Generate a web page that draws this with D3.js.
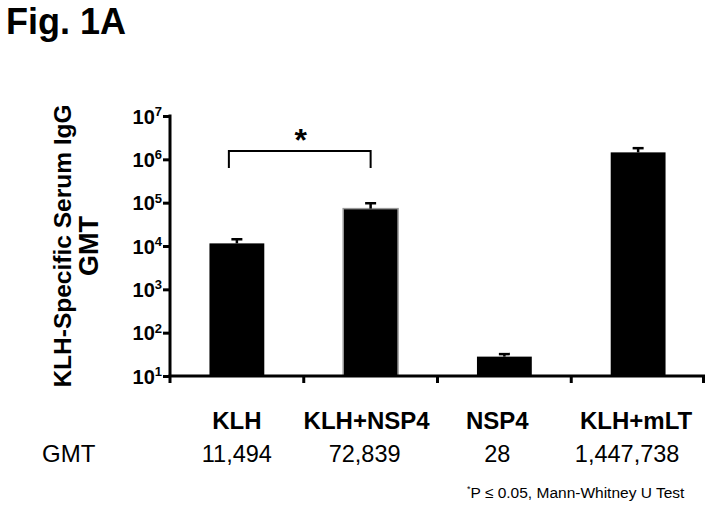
<!DOCTYPE html>
<html>
<head>
<meta charset="utf-8">
<script src="https://cdn.jsdelivr.net/npm/d3@7"></script>
<style>
  html, body { margin: 0; padding: 0; background: #fff; }
  svg { display: block; font-family: "Liberation Sans", Arial, sans-serif; }
</style>
</head>
<body>
<svg id="chart" width="714" height="505"></svg>
<script>
// ---- data ----
const categories = ["KLH", "KLH+NSP4", "NSP4", "KLH+mLT"];
const gmtValues = [11494, 72839, 28, 1447738];
const errorUpper = [14300, 97000, 32, 1810000];
const gmtLabels = ["11,494", "72,839", "28", "1,447,738"];
const yTickValues = [1e1, 1e2, 1e3, 1e4, 1e5, 1e6, 1e7];
const yTickExponents = ["1", "2", "3", "4", "5", "6", "7"];

(function () {
const svg = d3.select("#chart");
const pLeft = 170, pRight = 705, pTop = 116, pBottom = 376;
// small horizontal nudges of the text rows (layout only)
const catDx = [0, -4, -7, -2];
const gmtDx = [0, -6, -7, -11];

const y = d3.scaleLog().domain([1e1, 1e7]).range([pBottom, pTop]);
const x = d3.scaleBand().domain(categories).range([pLeft, pRight])
  .paddingInner(0.59).paddingOuter(0.295);
const cx = d => x(d) + x.bandwidth() / 2;

// Title
svg.append("text").attr("x", 6).attr("y", 34)
  .attr("font-size", 36).attr("font-weight", "bold").text("Fig. 1A");

// Bars
svg.append("g").selectAll("rect").data(categories).join("rect")
  .attr("x", d => x(d))
  .attr("width", x.bandwidth())
  .attr("y", (d, i) => y(gmtValues[i]))
  .attr("height", (d, i) => pBottom - y(gmtValues[i]))
  .attr("fill", "#000")
  .attr("stroke", d => d === "KLH+NSP4" ? "#9a9a9a" : "none")
  .attr("stroke-width", 1.5);

// Error bars (upper)
const eb = svg.append("g").attr("stroke", "#000").attr("stroke-width", 2.5);
categories.forEach((c, i) => {
  eb.append("line").attr("x1", cx(c)).attr("x2", cx(c))
    .attr("y1", y(gmtValues[i])).attr("y2", y(errorUpper[i]));
  eb.append("line").attr("x1", cx(c) - 5.5).attr("x2", cx(c) + 5.5)
    .attr("y1", y(errorUpper[i])).attr("y2", y(errorUpper[i]));
});

// Y axis
const yAxis = d3.axisLeft(y).tickValues(yTickValues).tickSize(7).tickSizeOuter(0).tickFormat("");
const gy = svg.append("g").attr("transform", `translate(${pLeft},0)`).call(yAxis);
gy.select(".domain").attr("stroke-width", 3).attr("d", `M0,${pTop - 1.5}V${pBottom + 7}`);
gy.selectAll(".tick line").attr("stroke-width", 3);
gy.selectAll(".tick").each(function(d, i) {
  const t = d3.select(this).append("text")
    .attr("x", -8).attr("y", 7)
    .attr("text-anchor", "end").attr("fill", "#000")
    .attr("font-weight", "bold").attr("font-size", 20);
  t.append("tspan").text("10");
  t.append("tspan").attr("font-size", 13).attr("dy", -7.5).text(yTickExponents[i]);
});

// X axis line and boundary ticks
const gx = svg.append("g").attr("stroke", "#000").attr("stroke-width", 3);
gx.append("line").attr("x1", pLeft - 1.5).attr("x2", pRight).attr("y1", pBottom).attr("y2", pBottom);
const bounds = categories.map(c => cx(c) + x.step() / 2);
gx.selectAll(".bt").data(bounds).join("line").attr("class", "bt")
  .attr("x1", d => Math.min(d, pRight - 1.5)).attr("x2", d => Math.min(d, pRight - 1.5))
  .attr("y1", pBottom).attr("y2", pBottom + 7);

// Y axis title
const yt = svg.append("text").attr("transform", "translate(0,246) rotate(-90)")
  .attr("text-anchor", "middle").attr("font-weight", "bold").attr("font-size", 24.5);
yt.append("tspan").attr("x", 0).attr("y", 71).text("KLH-Specific Serum IgG");
yt.append("tspan").attr("x", 0).attr("y", 98).attr("font-size", 27).text("GMT");

// Category labels
svg.append("g").selectAll("text").data(categories).join("text")
  .attr("x", (d, i) => cx(d) + catDx[i]).attr("y", 429)
  .attr("text-anchor", "middle").attr("font-weight", "bold").attr("font-size", 24)
  .text(d => d);

// GMT row
svg.append("text").attr("x", 42).attr("y", 462).attr("font-size", 24).text("GMT");
svg.append("g").selectAll("text").data(gmtLabels).join("text")
  .attr("x", (d, i) => cx(categories[i]) + gmtDx[i]).attr("y", 462)
  .attr("text-anchor", "middle").attr("font-size", 23.5)
  .text(d => d);

// Significance bracket
const bx1 = cx("KLH") - 8;
const bx2 = cx("KLH+NSP4");
svg.append("path")
  .attr("d", `M${bx1},168V151H${bx2}V168`)
  .attr("fill", "none").attr("stroke", "#000").attr("stroke-width", 2);
svg.append("text").attr("x", (bx1 + bx2) / 2 + 1).attr("y", 151)
  .attr("text-anchor", "middle").attr("font-weight", "bold").attr("font-size", 32).text("*");

// Footnote
const fn = svg.append("text").attr("x", 467).attr("y", 498).attr("font-size", 15.5);
fn.append("tspan").attr("font-size", 9).attr("dy", -6).text("*");
fn.append("tspan").attr("dy", 6).text("P \u2264 0.05, Mann-Whitney U Test");
})();
</script>
</body>
</html>
